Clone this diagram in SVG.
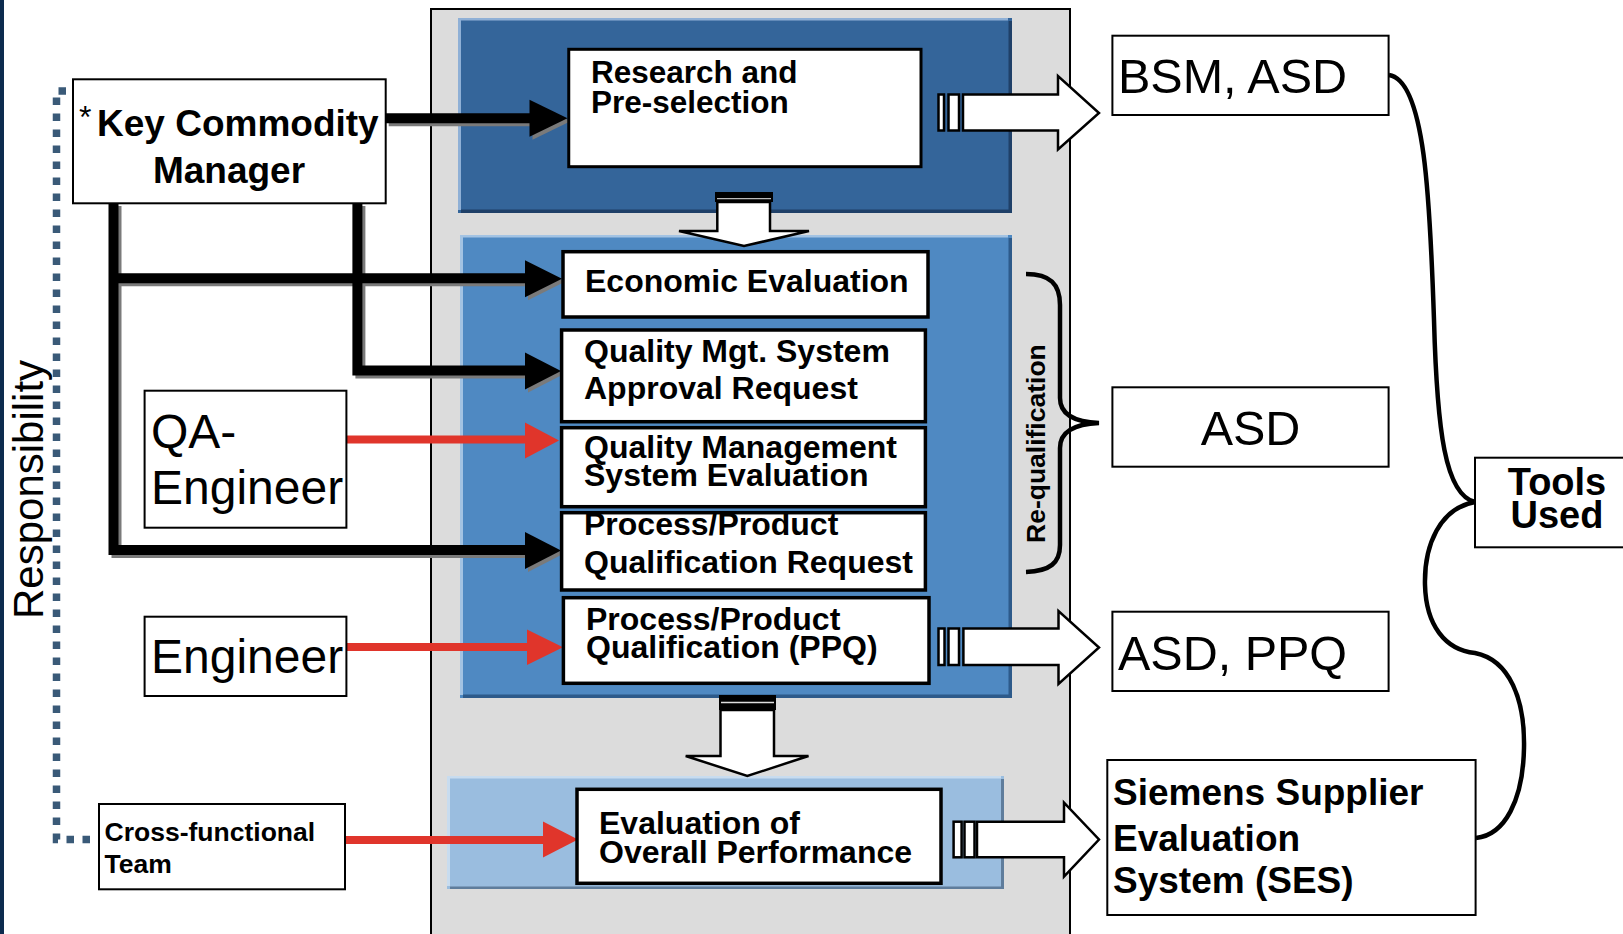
<svg xmlns="http://www.w3.org/2000/svg" width="1623" height="934" viewBox="0 0 1623 934">
<defs>
<style>
text{font-family:"Liberation Sans",Arial,Helvetica,sans-serif;fill:#000}
.b{font-weight:bold}
.box{fill:#fff;stroke:#000;stroke-width:2}
.pbox{fill:#fff;stroke:#000;stroke-width:3.5}
.blk{fill:none;stroke:#000;stroke-width:10}
.shd{fill:none;stroke:#7a7a7a;stroke-width:10}
.shdh{fill:#7a7a7a}
.red{fill:none;stroke:#e0352b;stroke-width:8}
.redh{fill:#e0352b}
.hol{fill:#fff;stroke:#000;stroke-width:2.5;stroke-linejoin:miter}
.curve{fill:none;stroke:#000;stroke-width:4.5}
.pt{font-size:32px;font-weight:bold}
.tool{font-size:48.5px}
</style>
</defs>
<rect x="0" y="0" width="1623" height="934" fill="#fff"/>
<rect x="0" y="0" width="4" height="934" fill="#0d2b4e"/>

<g id="panels">
  <rect x="431" y="9" width="639" height="940" fill="#dcdcdc" stroke="#000" stroke-width="2"/>
  <rect x="458" y="18" width="554" height="195" fill="#34659a"/>
  <rect x="1008.5" y="21" width="3.5" height="192" fill="#1f4068"/>
  <rect x="461" y="209.5" width="551" height="3.5" fill="#1f4068"/>
  <rect x="458" y="18" width="550" height="2.5" fill="#8fb0d6"/>
  <rect x="458" y="18" width="3" height="192" fill="#8fb0d6"/>
  <rect x="460" y="235" width="552" height="463" fill="#4f89c2"/>
  <rect x="1008.5" y="238" width="3.5" height="460" fill="#2d5a8a"/>
  <rect x="463" y="694.5" width="549" height="3.5" fill="#2d5a8a"/>
  <rect x="460" y="235" width="548" height="2.5" fill="#a3c3e3"/>
  <rect x="460" y="235" width="3" height="460" fill="#a3c3e3"/>
  <rect x="447" y="776" width="557" height="113" fill="#9abddf"/>
  <rect x="1001" y="779" width="3" height="110" fill="#5f7d9c"/>
  <rect x="450" y="886.5" width="554" height="2.5" fill="#5f7d9c"/>
  <rect x="447" y="776" width="554" height="2.5" fill="#c8dcef"/>
  <rect x="447" y="776" width="3" height="110" fill="#c8dcef"/>
</g>

<g id="connectors">
  <path d="M66,91 H56.5 V839.5 H99" fill="none" stroke="#3a5a78" stroke-width="7.5" stroke-dasharray="7.5 8.5"/>
  <g transform="translate(3,3)">
    <path class="shd" d="M385.7,118.3 H531"/>
    <path class="shd" d="M113.5,203 V550 H527"/>
    <path class="shd" d="M113.5,278.3 H527"/>
    <path class="shd" d="M357.4,203 V370.5 H527"/>
    <polygon class="shdh" points="529.5,99.8 567.5,118.3 529.5,136.8"/>
    <polygon class="shdh" points="525,260.3 562,278.8 525,297.3"/>
    <polygon class="shdh" points="525,352.5 561,371 525,389.5"/>
    <polygon class="shdh" points="525,532 561,550.5 525,569"/>
  </g>
  <path class="blk" d="M385.7,118.3 H531"/>
  <path class="blk" d="M113.5,203 V550 H527"/>
  <path class="blk" d="M113.5,278.3 H527"/>
  <path class="blk" d="M357.4,203 V370.5 H527"/>
  <polygon points="529.5,99.8 567.5,118.3 529.5,136.8"/>
  <polygon points="525,260.3 562,278.8 525,297.3"/>
  <polygon points="525,352.5 561,371 525,389.5"/>
  <polygon points="525,532 561,550.5 525,569"/>
  <path class="red" d="M346.4,439.5 H527"/>
  <polygon class="redh" points="525,422.5 559,440.5 525,458.5"/>
  <path class="red" d="M346.4,647 H529"/>
  <polygon class="redh" points="527,629.5 563,647.3 527,665"/>
  <path class="red" d="M345,840 H545"/>
  <polygon class="redh" points="543,821.5 578,839.5 543,857.5"/>
  <rect x="715" y="192" width="58" height="10" fill="#000"/>
  <line x1="717" y1="198.6" x2="771" y2="198.6" stroke="#bbb" stroke-width="1.3"/>
  <path class="hol" d="M717.3,202 H770 V231 H809 L744,246 L679,231 H717.3 Z"/>
  <rect x="719" y="695" width="57" height="15" fill="#000"/>
  <line x1="721" y1="702.5" x2="774" y2="702.5" stroke="#ddd" stroke-width="1.5"/>
  <path class="hol" d="M720.5,710 H774 V756 H808.5 L747.3,776 L685.7,756 H720.5 Z"/>
  <rect class="hol" x="938.5" y="94.5" width="5.5" height="36"/>
  <rect class="hol" x="948.5" y="94.5" width="10.5" height="36"/>
  <path class="hol" d="M963,94.5 H1058 V76 L1099,113 L1058,149.5 V130.5 H963 Z"/>
  <rect class="hol" x="938.5" y="628.5" width="6" height="36.5"/>
  <rect class="hol" x="948.5" y="628.5" width="10.5" height="36.5"/>
  <path class="hol" d="M963.4,628.5 H1058.5 V611 L1099,647.5 L1058.5,684 V665 H963.4 Z"/>
  <rect class="hol" x="953.6" y="821.7" width="8" height="35.6"/>
  <rect class="hol" x="964.5" y="821.7" width="10" height="35.6"/>
  <path class="hol" d="M977,821.7 H1064 V802.7 L1099,839.5 L1064,876.7 V857.3 H977 Z"/>
  <path class="curve" d="M1026,274 C1050,274 1060,284 1060,305 L1060,398 C1060,415 1075,422 1099,423 C1075,424 1060,431 1060,448 L1060,545 C1060,563 1050,571 1026,572"/>
  <path class="curve" d="M1389,75 C1425,80 1430,200 1434,320 C1437,430 1445,495 1475,502"/>
  <path class="curve" d="M1475,502 C1440,508 1424,545 1425,585 C1426,625 1445,650 1475,653 C1510,660 1525,700 1524,748 C1523,800 1505,835 1476,838"/>
</g>

<text class="b" font-size="26.5" transform="translate(1045,543) rotate(-90)">Re-qualification</text>
<text font-size="42" transform="translate(43,619) rotate(-90)">Responsibility</text>

<g id="kcm">
  <rect class="box" x="73" y="79.3" width="312.7" height="124"/>
  <text x="79" y="128" font-size="32">*</text>
  <text class="b" x="97" y="136" font-size="37">Key Commodity</text>
  <text class="b" x="229" y="183" font-size="37" text-anchor="middle">Manager</text>
</g>
<g id="qa-engineer">
  <rect class="box" x="144.6" y="390.7" width="201.8" height="137"/>
  <text x="151" y="447.7" font-size="48">QA-</text>
  <text x="151" y="504.3" font-size="48">Engineer</text>
</g>
<g id="engineer">
  <rect class="box" x="144.6" y="616.7" width="201.8" height="79.3"/>
  <text x="151" y="672.7" font-size="48">Engineer</text>
</g>
<g id="cross-functional">
  <rect class="box" x="99" y="804" width="246" height="85.3"/>
  <text class="b" x="104.6" y="840.7" font-size="26.5">Cross-functional</text>
  <text class="b" x="104.6" y="872.7" font-size="26.5">Team</text>
</g>

<g id="research">
  <rect x="568.75" y="49.3" width="352.25" height="117.4" fill="#fff" stroke="#000" stroke-width="3"/>
  <text class="b" x="591" y="83" font-size="31.5">Research and</text>
  <text class="b" x="591" y="113" font-size="31.5">Pre-selection</text>
</g>
<g id="economic">
  <rect class="pbox" x="563" y="251.7" width="365" height="65.3"/>
  <text class="pt" x="585" y="291.7">Economic Evaluation</text>
</g>
<g id="qms-approval">
  <rect class="pbox" x="561.6" y="330" width="363.8" height="91.7"/>
  <text class="pt" x="584" y="361.7">Quality Mgt. System</text>
  <text class="pt" x="584" y="399.3">Approval Request</text>
</g>
<g id="qms-evaluation">
  <rect class="pbox" x="561.6" y="427.7" width="363.8" height="79"/>
  <text class="pt" x="584" y="457.7">Quality Management</text>
  <text class="pt" x="584" y="486">System Evaluation</text>
</g>
<g id="ppq-request">
  <rect class="pbox" x="561.6" y="512.7" width="363.8" height="77.3"/>
  <text class="pt" x="584" y="535">Process/Product</text>
  <text class="pt" x="584" y="573.3">Qualification Request</text>
</g>
<g id="ppq">
  <rect class="pbox" x="563.4" y="597.7" width="365.6" height="85.6"/>
  <text class="pt" x="586" y="630">Process/Product</text>
  <text class="pt" x="586" y="657.7">Qualification (PPQ)</text>
</g>
<g id="overall">
  <rect class="pbox" x="577" y="789.3" width="364" height="94"/>
  <text class="pt" x="599" y="834.3">Evaluation of</text>
  <text class="pt" x="599" y="862.7">Overall Performance</text>
</g>

<g id="bsm-asd">
  <rect class="box" x="1112.4" y="35.7" width="276.2" height="79.3"/>
  <text class="tool" x="1118" y="92.7">BSM, ASD</text>
</g>
<g id="asd">
  <rect class="box" x="1112.4" y="387.3" width="276.2" height="79.4"/>
  <text class="tool" x="1250.5" y="445" text-anchor="middle">ASD</text>
</g>
<g id="asd-ppq">
  <rect class="box" x="1112.4" y="611.7" width="276.2" height="79.3"/>
  <text class="tool" x="1118" y="670">ASD, PPQ</text>
</g>
<g id="ses">
  <rect class="box" x="1107.3" y="760" width="368.3" height="155"/>
  <text class="b" x="1113" y="805" font-size="37">Siemens Supplier</text>
  <text class="b" x="1113" y="850.7" font-size="37">Evaluation</text>
  <text class="b" x="1113" y="893.3" font-size="37">System (SES)</text>
</g>
<g id="tools-used">
  <rect class="box" x="1475" y="457.7" width="160" height="89.6"/>
  <text class="b" x="1557" y="495" font-size="38" text-anchor="middle">Tools</text>
  <text class="b" x="1557" y="528.3" font-size="38" text-anchor="middle">Used</text>
</g>
</svg>
